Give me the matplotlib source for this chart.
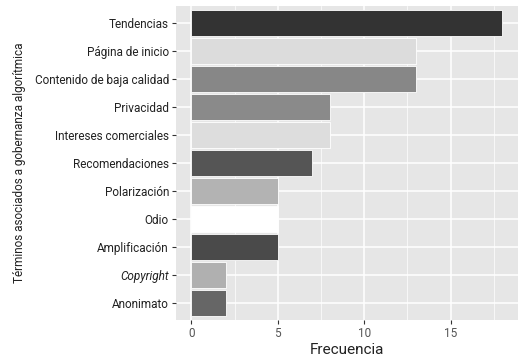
import numpy as np
import matplotlib
matplotlib.use('Agg')
import matplotlib.pyplot as plt

terms = ['Tendencias', 'Página de inicio', 'Contenido de baja calidad', 'Privacidad',
         'Intereses comerciales', 'Recomendaciones', 'Polarización', 'Odio',
         'Amplificación', 'Copyright', 'Anonimato']
freq = [18, 13, 13, 8, 8, 7, 5, 5, 5, 2, 2]
bar_colors = ['#333333', '#dcdcdc', '#878787', '#8a8a8a', '#dddddd', '#555555',
              '#b3b3b3', '#ffffff', '#4a4a4a', '#b0b0b0', '#666666']
x_ticks = [0, 5, 10, 15]

plt.rcParams['font.family'] = ['Roboto', 'DejaVu Sans']

fig = plt.figure(figsize=(5.28, 3.61), dpi=100)
ax = fig.add_axes([0.333, 0.114, 0.648, 0.869])
ax.set_facecolor('#e6e6e6')

y = np.arange(len(terms))[::-1]
ax.barh(y, freq, height=0.9, color=bar_colors, edgecolor='white', linewidth=0.6, zorder=3)

ax.set_xlim(-0.9, 18.9)
ax.set_ylim(-0.6, len(terms) - 0.4)
ax.set_xticks(x_ticks)
ax.set_xticks([2.5, 7.5, 12.5, 17.5], minor=True)
ax.set_yticks(y)
ax.set_yticklabels(terms)
for lbl in ax.get_yticklabels():
    if lbl.get_text() == 'Copyright':
        lbl.set_style('italic')

ax.grid(which='major', color='white', linewidth=1.1, zorder=0)
ax.grid(which='minor', axis='x', color='white', linewidth=0.5, zorder=0)
for s in ax.spines.values():
    s.set_visible(False)
ax.tick_params(axis='both', which='major', length=3, color='#333333', labelsize=8.5,
               labelcolor='#222222', pad=2)
ax.tick_params(axis='x', labelcolor='#555555')
ax.tick_params(which='minor', length=0)

ax.set_xlabel('Frecuencia', fontsize=11, color='#222222', labelpad=2)
ax.set_ylabel('Términos asociados a gobernanza algorítmica', fontsize=8.5, color='#222222', labelpad=6)

fig.savefig('out.png', dpi=100)
